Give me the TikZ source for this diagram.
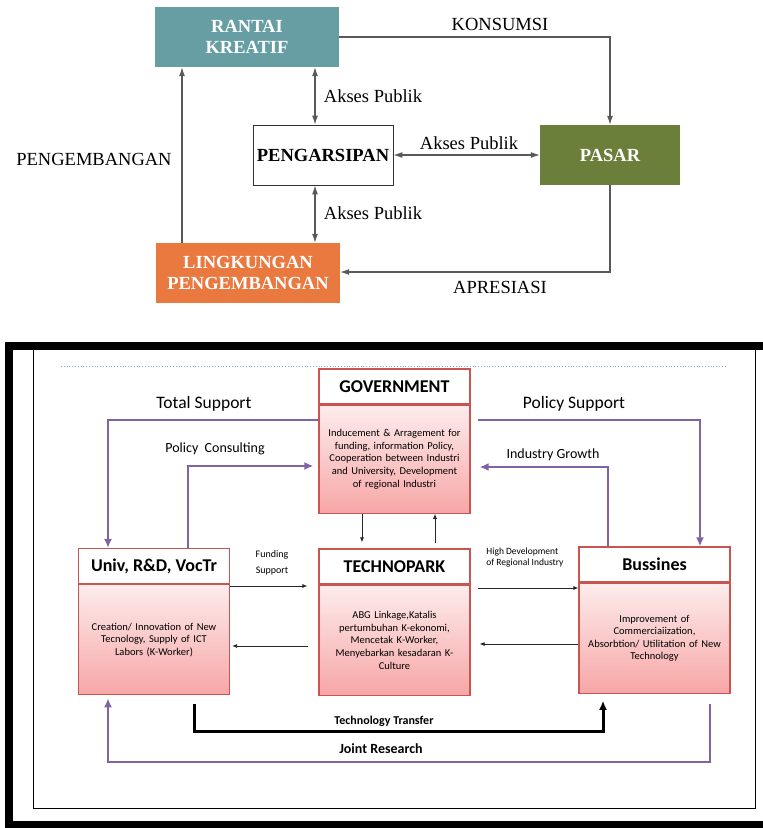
\documentclass[tikz,border=0pt]{standalone}
\usepackage{fontspec}
\setmainfont{Liberation Serif}
\newfontfamily\carl{Carlito}
\usetikzlibrary{arrows.meta,positioning}

\definecolor{rantai}{RGB}{102,158,163}
\definecolor{pasar}{RGB}{107,127,58}
\definecolor{lingk}{RGB}{234,121,63}
\definecolor{purp}{RGB}{128,100,162}
\definecolor{boxred}{RGB}{200,85,82}
\definecolor{pinktop}{RGB}{253,236,236}
\definecolor{pinkbot}{RGB}{247,166,166}
\definecolor{dotblue}{RGB}{120,175,215}

\tikzset{
  box/.style={text=white, font=\fontsize{18.5}{21}\selectfont\bfseries, align=center, inner sep=0pt},
  arsipbox/.style={draw=black!80, line width=0.8pt, fill=white, font=\fontsize{18.5}{21}\selectfont\bfseries, inner sep=0pt},
  lbl/.style={font=\fontsize{18.5}{21}\selectfont},
  flow/.style={draw=black!65, line width=1.1pt},
  ttl/.style={draw=boxred, line width=1.2pt, fill=white, font=\carl\fontsize{18}{20}\selectfont\bfseries, minimum width=151pt, minimum height=35pt, inner sep=0pt},
  bdy/.style={draw=boxred, line width=1.2pt, top color=pinktop, bottom color=pinkbot, font=\carl\fontsize{10.5}{12.6}\selectfont, align=center, text width=145pt, minimum width=151pt, minimum height=110pt, inner sep=0pt},
  purpline/.style={draw=purp, line width=2.6pt, -{Latex[length=9pt,width=8pt]}},
  thinarr/.style={draw=black!85, line width=0.8pt, -{Latex[length=5pt,width=4pt]}},
  ttline/.style={draw=black, line width=3pt, -{Latex[length=9pt,width=8pt]}},
  suplbl/.style={font=\carl\fontsize{17.5}{20}\selectfont},
}

\begin{document}
\begin{tikzpicture}[x=1pt, y=-1pt, >={Latex[length=9pt,width=6pt]}]
\useasboundingbox (0,0) rectangle (763,828);

% upper diagram
\node[box, fill=rantai, minimum width=184pt, minimum height=60pt] (rantai) at (247,37) {RANTAI\\KREATIF};
\node[arsipbox, minimum width=140pt, minimum height=60pt] (arsip) at (323,155) {PENGARSIPAN};
\node[box, fill=pasar, minimum width=140pt, minimum height=60pt] (pasar) at (610,155) {PASAR};
\node[box, fill=lingk, minimum width=184pt, minimum height=60pt] (lingk) at (248,273) {LINGKUNGAN\\PENGEMBANGAN};

\coordinate (ak) at (315,0);
\coordinate (pg) at (182,0);
\coordinate (ap) at (0,272);

\draw[flow,->] (rantai.east) -| (pasar.north);
\draw[flow,->] (pasar.south) -- (pasar.south |- ap) -- (lingk.east |- ap);
\draw[flow,->] (lingk.north -| pg) -- (rantai.south -| pg);
\draw[flow,<->] (rantai.south -| ak) -- (arsip.north -| ak);
\draw[flow,<->] (arsip.south -| ak) -- (lingk.north -| ak);
\draw[flow,<->] (arsip.east) -- (pasar.west);

\node[lbl] (konsumsi) at (500,24) {KONSUMSI};
\node[lbl] (apresiasi) at (500,287) {APRESIASI};
\node[lbl] (pengemb) at (94,159) {PENGEMBANGAN};
\node[lbl] (akses1) at (373,96) {Akses Publik};
\node[lbl] (akses2) at (469,143) {Akses Publik};
\node[lbl] (akses3) at (373,213) {Akses Publik};

% lower diagram, frame
\fill (5,342) rectangle (763,828);
\fill[white] (13,350) rectangle (763,821);
\draw[line width=0.9pt] (33,350) -- (33,808) -- (755,808) -- (755,350);
\draw[dotted, dotblue, line width=0.8pt] (61,366) -- (725,366);

% boxes
\node[ttl] (gov) at (394.5,386.5) {GOVERNMENT};
\node[bdy, below=0pt of gov, minimum height=108pt] (govb) {Inducement \& Arragement for\\funding, information Policy,\\Cooperation between Industri\\and University, Development\\of regional Industri\\[4pt]};
\node[ttl] (tech) at (394.5,566.5) {TECHNOPARK};
\node[bdy, below=0pt of tech] (techb) {ABG Linkage,Katalis\\pertumbuhan K-ekonomi,\\Mencetak K-Worker,\\Menyebarkan kesadaran K-\\Culture};
\node[ttl] (univ) at (154,566) {Univ, R\&D, VocTr};
\node[bdy, below=0pt of univ] (univb) {Creation/ Innovation of New\\Tecnology, Supply of ICT\\Labors (K-Worker)};
\node[ttl] (bus) at (654.5,564.5) {Bussines};
\node[bdy, below=0pt of bus] (busb) {Improvement of\\Commerciaiization,\\Absorbtion/ Utilitation of New\\Technology};

% bends
\coordinate (ts) at (108,420);
\coordinate (ps) at (700,420);
\coordinate (pc) at (188,466);
\coordinate (ig) at (608,467);
\coordinate (jrR) at (710,762);
\coordinate (jrL) at (108,762);
\coordinate (ttL) at (194,731);
\coordinate (ttR) at (603,731);
\coordinate (fs) at (0,586);
\coordinate (tu) at (0,646);
\coordinate (hd) at (0,588);
\coordinate (bt) at (0,644);

\draw[purpline] (govb.west |- ts) -- (ts) -- (univ.north -| ts);
\draw[purpline, shorten <=7pt] (govb.east |- ps) -- (ps) -- (bus.north -| ps);
\draw[purpline, shorten >=5pt] (univ.north -| pc) -- (pc) -- (govb.west |- pc);
\draw[purpline, shorten >=9pt] (bus.north -| ig) -- (ig) -- (govb.east |- ig);
\draw[purpline, shorten <=10pt, shorten >=3pt] (busb.south -| jrR) -- (jrR) -- (jrL) -- (univb.south -| jrL);
\draw[ttline, shorten <=9pt, shorten >=7pt] (univb.south -| ttL) -- (ttL) -- (ttR) -- (busb.south -| ttR);

\draw[thinarr, shorten >=6pt] ([xshift=-32.5pt]govb.south) -- ([xshift=-32.5pt]tech.north);
\draw[thinarr, shorten <=5pt] ([xshift=40.5pt]tech.north) -- ([xshift=40.5pt]govb.south);
\draw[thinarr, shorten >=11pt] (univb.east |- fs) -- (techb.west |- fs);
\draw[thinarr, shorten <=10pt, shorten >=2pt] (techb.west |- tu) -- (univb.east |- tu);
\draw[thinarr, shorten <=7pt] (techb.east |- hd) -- (busb.west |- hd);
\draw[thinarr, shorten >=9pt] (busb.west |- bt) -- (techb.east |- bt);

% labels
\node[suplbl] (totsup) at (204,404) {Total Support};
\node[suplbl] (polsup) at (574,404) {Policy Support};
\node[font=\carl\fontsize{14}{16}\selectfont] (polcons) at (215,449) {Policy\ \ Consulting};
\node[font=\carl\fontsize{14}{16}\selectfont] (indgrow) at (553,455) {Industry Growth};
\node[font=\carl\fontsize{10}{16}\selectfont, align=center] (fund) at (272,563) {Funding\\Support};
\node[font=\carl\fontsize{9.5}{11}\selectfont, align=left] (highdev) at (525,557.5) {High Development\\of Regional Industry};
\node[font=\carl\fontsize{12}{14}\selectfont\bfseries] (techtr) at (384,721) {Technology Transfer};
\node[font=\carl\fontsize{14}{16}\selectfont\bfseries] (joint) at (381,749) {Joint Research};

\end{tikzpicture}
\end{document}
